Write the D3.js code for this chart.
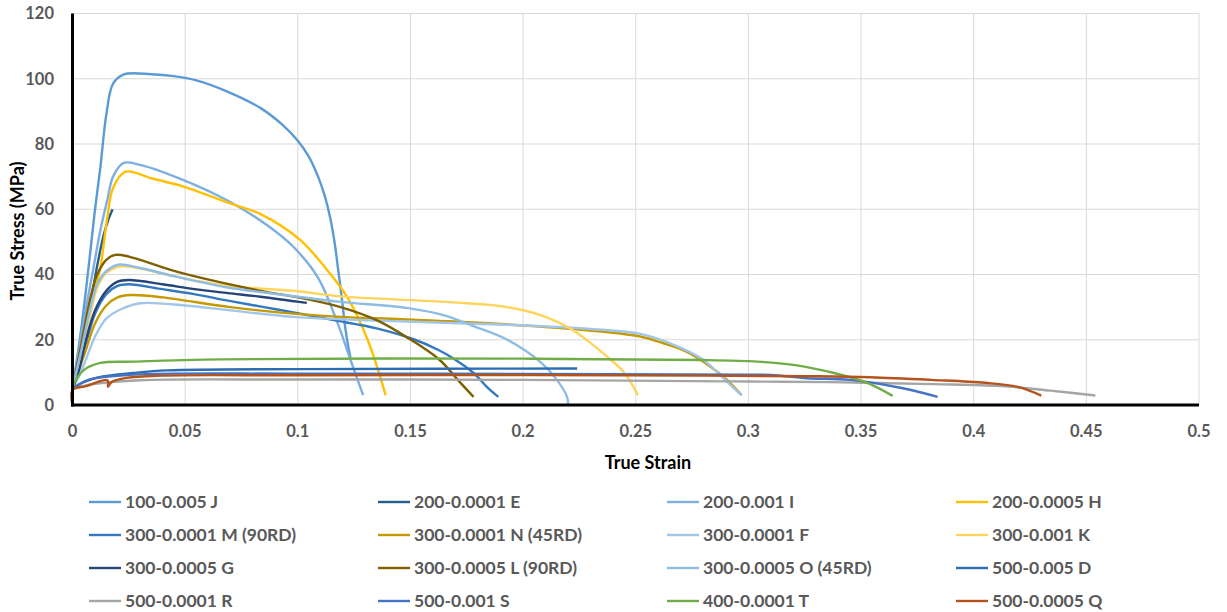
<!DOCTYPE html>
<html>
<head>
<meta charset="utf-8">
<script src="https://cdn.jsdelivr.net/npm/d3@7"></script>
<style>
    body { margin: 0; background: #fff; }
    svg { display: block; font-family: Lato, "Open Sans", sans-serif; font-weight: bold; }
    .tick-label { fill: #595959; font-size: 16.5px; }
    .legend-label { fill: #595959; font-size: 17.5px; }
    .axis-title { fill: #000; font-size: 18px; }
</style>
</head>
<body>
<svg id="chart" width="1227" height="612"></svg>
<script>
// curves: [true strain, true stress MPa]
var curveJ = [[0,5],[0.004,24],[0.0071,42],[0.010,60],[0.0124,73],[0.015,89],[0.018,98.5],[0.0226,101.3],[0.035,101.4],[0.045,100.8],[0.055,99.5],[0.069,96],[0.0835,91],[0.093,86],[0.1,81],[0.105,76],[0.109,70],[0.112,64],[0.1145,57],[0.1165,49],[0.118,41],[0.1195,33],[0.121,24],[0.1225,17.5],[0.1234,14.5]];
var curveE = [[0,5],[0.004,17],[0.008,31],[0.0105,41],[0.0138,52],[0.016,57],[0.0178,60]];
var curveI = [[0,5],[0.0045,24],[0.0093,42],[0.0125,54],[0.0155,63],[0.018,70],[0.0227,74.2],[0.03,73.6],[0.049,69],[0.069,62.6],[0.0866,55],[0.098,48.5],[0.109,39],[0.1177,25],[0.1234,13.8],[0.129,3]];
var curveH = [[0,5],[0.005,20],[0.0095,34],[0.0124,42.3],[0.0155,57.7],[0.018,66.5],[0.0235,71.5],[0.035,69.5],[0.049,67],[0.069,62],[0.0835,58.5],[0.101,50.6],[0.113,41.4],[0.122,33],[0.131,20],[0.139,3]];
var curveM = [[0,5],[0.003,12],[0.006,19],[0.01,28],[0.015,34],[0.02,36.5],[0.025,37],[0.04,35.5],[0.054,34],[0.069,32],[0.085,30],[0.101,28],[0.116,26],[0.135,23.5],[0.152,20],[0.162,17],[0.168,14.7],[0.178,9.8],[0.184,5.5],[0.189,2.5]];
var curveN = [[0,5],[0.003,11],[0.006,17],[0.01,25],[0.015,30.5],[0.02,33],[0.026,33.7],[0.04,33],[0.07,30],[0.098,28],[0.119,27],[0.146,26.3],[0.178,25.3],[0.222,23.3],[0.252,21],[0.262,19],[0.272,16.5],[0.281,12.8],[0.29,8],[0.297,3]];
var curveF = [[0,5],[0.003,9],[0.006,14],[0.01,21],[0.015,26.5],[0.022,29.5],[0.03,31.2],[0.05,30.5],[0.07,29],[0.098,27],[0.1425,25.7],[0.193,24.6],[0.23,23.3],[0.252,21.8],[0.265,19],[0.279,14.3],[0.287,9.5],[0.293,5.5],[0.297,3]];
var curveK = [[0,5],[0.004,16],[0.008,28],[0.011,36],[0.015,40.5],[0.022,42.5],[0.03,41.8],[0.045,39.5],[0.069,36.5],[0.098,35],[0.119,33.3],[0.1545,32],[0.175,31.2],[0.193,30],[0.208,27.5],[0.222,23],[0.2375,14.7],[0.245,9.8],[0.251,3]];
var curveG = [[0,5],[0.003,11],[0.006,20],[0.01,29],[0.015,35],[0.02,37.8],[0.025,38.3],[0.04,37],[0.054,35.5],[0.069,34.3],[0.0835,33.2],[0.104,31.3]];
var curveL = [[0,5],[0.004,19],[0.008,33],[0.011,40],[0.015,44.5],[0.019,46],[0.025,45.5],[0.0466,40.8],[0.0835,35],[0.1,33],[0.119,30],[0.135,26],[0.149,20.5],[0.163,13.8],[0.171,7.7],[0.178,2.5]];
var curveO = [[0,5],[0.004,17],[0.008,30],[0.011,37],[0.015,41],[0.0204,43],[0.03,42],[0.045,39.5],[0.069,36],[0.1,33.2],[0.119,31.6],[0.149,29.7],[0.165,27.5],[0.178,24.2],[0.193,20],[0.208,13],[0.215,7.7],[0.2195,2.5],[0.22,0.3]];
var curveD = [[0,5],[0.005,7],[0.0124,8.6],[0.027,9.8],[0.042,10.6],[0.1,11],[0.16,11.1],[0.224,11.2]];
var curveR = [[0,5],[0.01,6.5],[0.03,7.6],[0.1,7.8],[0.2,7.7],[0.26,7.4],[0.3,7.2],[0.336,7.0],[0.382,6.4],[0.412,5.8],[0.434,4.4],[0.454,2.9]];
var curveS = [[0,5],[0.007,7.7],[0.027,9.3],[0.1,9.6],[0.2,9.5],[0.3,9.3],[0.31,9.2],[0.326,8.2],[0.345,7.7],[0.368,5.2],[0.384,2.5]];
var curveT = [[0,6],[0.005,10.7],[0.0124,12.9],[0.027,13.3],[0.066,14],[0.2,14.2],[0.279,13.8],[0.304,13.3],[0.32,12.3],[0.338,9.8],[0.353,6.7],[0.364,2.8]];
var curveQ = [[0,0],[0,4.6],[0.006,5.8],[0.0155,7.6],[0.0158,5.6],[0.0172,7.0],[0.024,8.3],[0.039,9.0],[0.1,9.1],[0.2,9.2],[0.28,9.0],[0.33,8.8],[0.354,8.5],[0.381,7.7],[0.405,6.8],[0.42,5.5],[0.43,2.9]];

var seriesNames = ["100-0.005 J","200-0.0001 E","200-0.001 I","200-0.0005 H",
    "300-0.0001 M (90RD)","300-0.0001 N (45RD)","300-0.0001 F","300-0.001 K",
    "300-0.0005 G","300-0.0005 L (90RD)","300-0.0005 O (45RD)","500-0.005 D",
    "500-0.0001 R","500-0.001 S","400-0.0001 T","500-0.0005 Q"];
var seriesData = [curveJ, curveE, curveI, curveH, curveM, curveN, curveF, curveK,
    curveG, curveL, curveO, curveD, curveR, curveS, curveT, curveQ];
var seriesColors = ["#5B9BD5","#255E91","#7DB0E0","#FFC000",
    "#3479C0","#C49A00","#A2C6E8","#FFD45C",
    "#264478","#7F6000","#8FBCE4","#2C6CB0",
    "#A5A5A5","#4472C4","#70AD47","#B5531C"];

var xTicks = [0,0.05,0.1,0.15,0.2,0.25,0.3,0.35,0.4,0.45,0.5];
var yTicks = [0,20,40,60,80,100,120];

var svg = d3.select("#chart");
var x = d3.scaleLinear().domain([0,0.5]).range([72.5,1199]);
var y = d3.scaleLinear().domain([0,120]).range([405,13.5]);

// grid
svg.append("g").selectAll("line").data(yTicks.slice(1)).join("line")
    .attr("x1", x(0)).attr("x2", x(0.5))
    .attr("y1", d => y(d)).attr("y2", d => y(d))
    .attr("stroke", "#D9D9D9").attr("stroke-width", 1);
svg.append("g").selectAll("line").data(xTicks.slice(1)).join("line")
    .attr("x1", d => x(d)).attr("x2", d => x(d))
    .attr("y1", y(0)).attr("y2", y(120))
    .attr("stroke", "#D9D9D9").attr("stroke-width", 1);

// tick labels
svg.append("g").selectAll("text").data(yTicks).join("text")
    .attr("class", "tick-label")
    .attr("x", 54).attr("y", d => y(d)).attr("dy", "0.35em")
    .attr("text-anchor", "end")
    .text(d => d);
svg.append("g").selectAll("text").data(xTicks).join("text")
    .attr("class", "tick-label")
    .attr("x", d => x(d)).attr("y", 437)
    .attr("text-anchor", "middle")
    .text(d => d);

// curves
var line = d3.line().x(d => x(d[0])).y(d => y(d[1])).curve(d3.curveCatmullRom.alpha(0.5));
svg.append("g").selectAll("path").data(seriesData).join("path")
    .attr("d", d => line(d))
    .attr("fill", "none")
    .attr("stroke", (d, i) => seriesColors[i])
    .attr("stroke-width", 2.4)
    .attr("stroke-linejoin", "round");

// axis lines
svg.append("line").attr("x1", x(0)).attr("x2", x(0))
    .attr("y1", y(120)).attr("y2", y(0) + 1.5)
    .attr("stroke", "#000").attr("stroke-width", 3);
svg.append("line").attr("x1", x(0) - 1.5).attr("x2", x(0.5))
    .attr("y1", y(0)).attr("y2", y(0))
    .attr("stroke", "#000").attr("stroke-width", 3);

// axis titles
svg.append("text").attr("class", "axis-title")
    .attr("x", 648).attr("y", 469).attr("text-anchor", "middle")
    .text("True Strain");
svg.append("text").attr("class", "axis-title")
    .attr("transform", "translate(24,231) rotate(-90)")
    .attr("text-anchor", "middle")
    .text("True Stress (MPa)");

// legend, 4 columns
var legend = svg.append("g").selectAll("g").data(seriesNames).join("g")
    .attr("transform", (d, i) => "translate(" + (89 + (i % 4) * 289) + "," + (502 + Math.floor(i / 4) * 33) + ")");
legend.append("line")
    .attr("x1", 0).attr("x2", 32).attr("y1", 0).attr("y2", 0)
    .attr("stroke", (d, i) => seriesColors[i]).attr("stroke-width", 2.4);
legend.append("text")
    .attr("class", "legend-label")
    .attr("x", 36).attr("dy", "0.35em")
    .text(d => d);
</script>
</body>
</html>
